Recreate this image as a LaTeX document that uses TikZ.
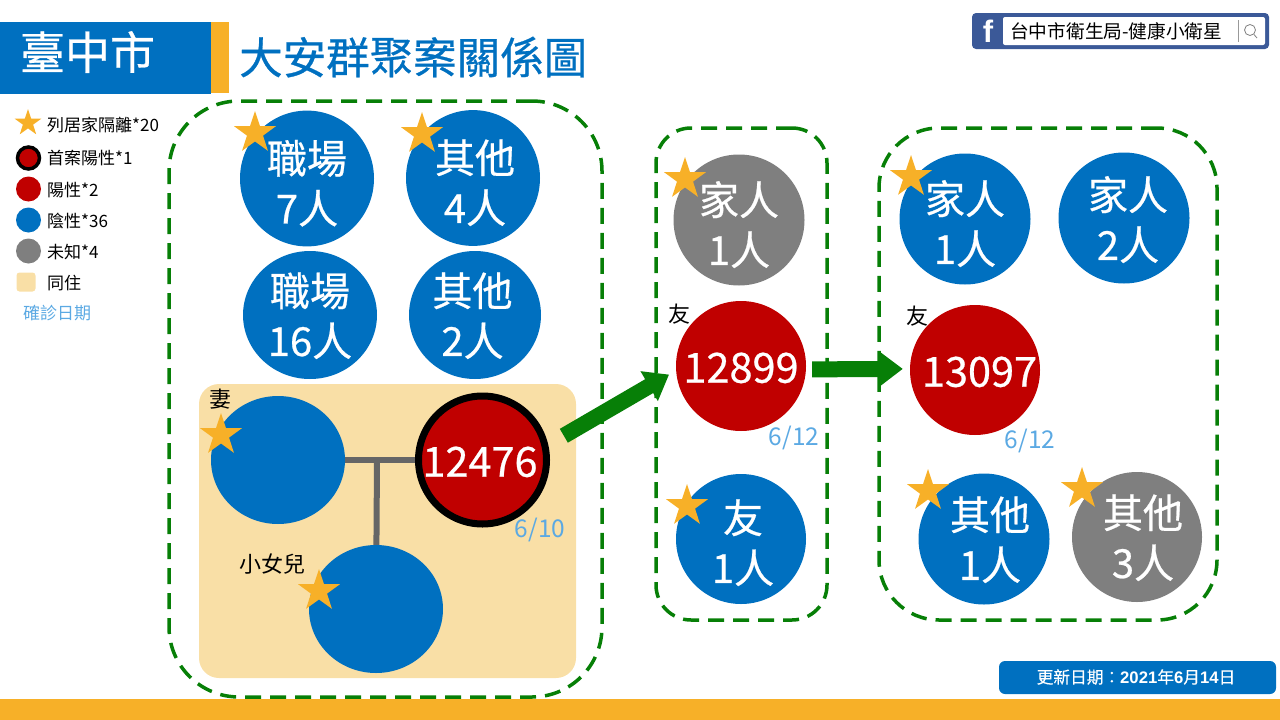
\documentclass[tikz,border=0pt]{standalone}
\usepackage{fontspec}
\setmainfont{Noto Sans CJK TC}
\newfontfamily\grasf[FakeBold=0.6]{Noto Sans CJK TC}
\newfontfamily\demif[FakeBold=0.25]{Noto Sans CJK TC}
\newfontfamily\arialf{Liberation Sans}
\usetikzlibrary{arrows.meta,shapes.geometric}
\definecolor{bleu}{HTML}{0070C0}
\definecolor{rouge}{HTML}{C00000}
\definecolor{gris}{HTML}{7F7F7F}
\definecolor{orange}{HTML}{F7B028}
\definecolor{beige}{HTML}{F9DFA6}
\definecolor{vert}{HTML}{077F07}
\definecolor{ciel}{HTML}{5BA9E3}
\definecolor{fb}{HTML}{3B5998}
\newcommand{\fsz}[1]{\fontsize{#1}{#1}\selectfont}
\newcommand{\deux}[4][0pt]{\rule{0pt}{#2pt}\hspace*{#1}#3\\\hspace*{#1}#4}
\newcommand{\un}[2][0pt]{\rule{0pt}{34pt}\hspace*{#1}#2}
\tikzset{
  rond/.style={circle,inner sep=0pt,minimum size=131pt,text=white,align=center,font=\grasf\fontsize{40}{50}\selectfont},
  ovale/.style={ellipse,inner sep=0pt,minimum width=134pt,minimum height=128pt,text=white,align=center,font=\grasf\fontsize{40}{50}\selectfont},
  etoile/.style={star,star points=5,star point ratio=2.6,fill=orange,inner sep=0pt,minimum size=44pt},
  groupe/.style={draw=vert,line width=3.5pt,dash pattern=on 16pt off 9pt,rectangle},
  legende/.style={anchor=west,inner sep=0pt,font=\fsz{17}},
  pastille/.style={circle,inner sep=0pt,minimum size=25pt},
  date/.style={text=ciel,inner sep=0pt,font=\fsz{24.5}},
  petit/.style={inner sep=0pt,font=\fsz{22}},
  fleche/.style={-{Triangle[length=23pt,width=33pt]},draw=vert,line width=16pt},
  lien/.style={draw=black!60,line width=6pt}
}
\begin{document}
\begin{tikzpicture}[x=1pt,y=-1pt]
        \useasboundingbox (0,0) rectangle (1280,720);
        \fill[orange] (0,699) rectangle (1280,720);
        \fill[bleu] (0,22) rectangle (211,94);
        \fill[orange] (211,22) rectangle (229,93);
        \node[text=white,inner sep=0pt,font=\grasf\fsz{45}] (VILLE) at (87.5,52) {臺中市};
        \node[text=bleu,anchor=west,inner sep=0pt,font=\grasf\fsz{43.5}] (TITRE) at (239,57) {大安群聚案關係圖};

        \node[etoile,minimum size=28pt] (L1) at (28,123) {};
        \node[pastille,fill=rouge,draw=black,line width=3.5pt,minimum size=22pt] (L2) at (28.5,158) {};
        \node[pastille,fill=rouge] (L3) at (28.5,189) {};
        \node[pastille,fill=bleu] (L4) at (28.5,220) {};
        \node[pastille,fill=gris] (L5) at (28.5,251) {};
        \node[fill=beige,rounded corners=3pt,minimum size=19pt,inner sep=0pt] (L6) at (26,282) {};
        \node[legende] (T1) at (47,125) {列居家隔離*20};
        \node[legende] (T2) at (47,158) {首案陽性*1};
        \node[legende] (T3) at (47,190) {陽性*2};
        \node[legende] (T4) at (47,221) {陰性*36};
        \node[legende] (T5) at (47,252) {未知*4};
        \node[legende] (T6) at (47,283) {同住};
        \node[legende,text=ciel] (T7) at (23,313) {確診日期};

        \node[fill=beige,rounded corners=20pt,minimum width=377pt,minimum height=294pt,inner sep=0pt] (MAISON) at (387.5,531) {};
        \node[groupe,rounded corners=70pt,minimum width=433pt,minimum height=596pt] (G1) at (385.5,399) {};
        \node[groupe,rounded corners=35pt,minimum width=171pt,minimum height=492pt] (G2) at (741.5,374) {};
        \node[groupe,rounded corners=60pt,minimum width=338pt,minimum height=492pt] (G3) at (1048,374) {};

        \node[ovale,fill=bleu] (TR7) at (307,178.5) {\deux{43}{職場}{7人}};
        \node[ovale,fill=bleu] (AU4) at (473,178) {\deux[4pt]{43}{其他}{4人}};
        \node[ovale,fill=bleu] (TR16) at (310,315) {\deux{35}{職場}{16人}};
        \node[ovale,fill=bleu,minimum width=132pt] (AU2) at (475,315) {\deux[-5pt]{35}{其他}{2人}};
        \node[ovale,fill=bleu] (FE) at (278,460) {};
        \node[rond,fill=rouge,draw=black,line width=7pt,minimum size=128pt,font=\grasf\fsz{41.5}] (C12476) at (482.5,460) {\un[-5pt]{12476}};
        \node[ovale,fill=bleu] (FI) at (376,609) {};
        \node[rond,fill=gris] (FA1) at (739,220) {\deux{43}{家人}{1人}};
        \node[rond,fill=rouge,minimum size=130pt,font=\grasf\fsz{41.5}] (C12899) at (741,366) {\un{12899}};
        \node[rond,fill=bleu,minimum size=130pt] (AM1) at (741,539) {\deux[4pt]{41}{友}{1人}};
        \node[rond,fill=bleu] (FA1B) at (965,219) {\deux{43}{家人}{1人}};
        \node[rond,fill=bleu] (FA2) at (1124,218) {\deux[8pt]{37}{家人}{2人}};
        \node[rond,fill=rouge,minimum size=130pt,font=\grasf\fsz{41.5}] (C13097) at (975,370) {\un[9pt]{13097}};
        \node[rond,fill=bleu] (AU1) at (984,539) {\deux[12pt]{35}{其他}{1人}};
        \node[rond,fill=gris,minimum size=130pt] (AU3) at (1137,537) {\deux[12pt]{35}{其他}{3人}};

        \coordinate (J) at (377,460);
        \draw[lien] (FE) -- (C12476);
        \draw[lien] (J) -- (FI);
        \draw[fleche,shorten <=18pt,shorten >=8pt] (C12476.13) -- (C12899.184);
        \draw[fleche,shorten <=6pt,shorten >=7pt] (C12899.-3) -- (C13097.179);

        \node[etoile] (E1) at (255,133) {};
        \node[etoile] (E2) at (422,134) {};
        \node[etoile] (E3) at (221,435) {};
        \node[etoile] (E4) at (319,591) {};
        \node[etoile] (E5) at (685,179) {};
        \node[etoile] (E6) at (911,177) {};
        \node[etoile] (E7) at (928,491) {};
        \node[etoile] (E8) at (1082,489) {};
        \node[etoile] (E9) at (687,506) {};

        \node[petit] (EPOUSE) at (220,399) {妻};
        \node[petit] (FILLE) at (272,564) {小女兒};
        \node[petit] (AMI1) at (679,314) {友};
        \node[petit] (AMI2) at (917,316) {友};
        \node[date] (D1) at (540,530) {6/10};
        \node[date] (D2) at (794,438) {6/12};
        \node[date] (D3) at (1030,441) {6/12};

        \node[fill=fb,rounded corners=4pt,minimum width=297pt,minimum height=36pt,inner sep=0pt] (FB) at (1120.5,31) {};
        \node[fill=white,rounded corners=2pt,minimum width=262pt,minimum height=28pt,inner sep=0pt] (BARRE) at (1134,31) {};
        \node[text=white,inner sep=0pt,font=\arialf\bfseries\fsz{31}] (F) at (988,31) {f};
        \node[anchor=west,inner sep=0pt,font=\fsz{18.7}] (NOM) at (1010,31) {台中市衛生局-健康小衛星};
        \node[draw=black!50,circle,line width=0.8pt,minimum size=11pt,inner sep=0pt] (LOUPE) at (1250,30) {};
        \coordinate (MANCHE) at (1257,38);
        \coordinate (S1) at (1238,20);
        \coordinate (S2) at (1238,42);
        \draw[black!50,line width=0.8pt] (LOUPE) -- (MANCHE);
        \draw[black!40,line width=0.8pt] (S1) -- (S2);

        \node[fill=bleu,rounded corners=6pt,minimum width=277pt,minimum height=33pt,inner sep=0pt] (MAJ) at (1137.5,677.5) {};
        \node[text=white,inner sep=0pt,font=\demif\fsz{16.7}] (TMAJ) at (1136,677) {更新日期：{\arialf\bfseries 2021}年{\arialf\bfseries 6}月{\arialf\bfseries 14}日};
\end{tikzpicture}
\end{document}
